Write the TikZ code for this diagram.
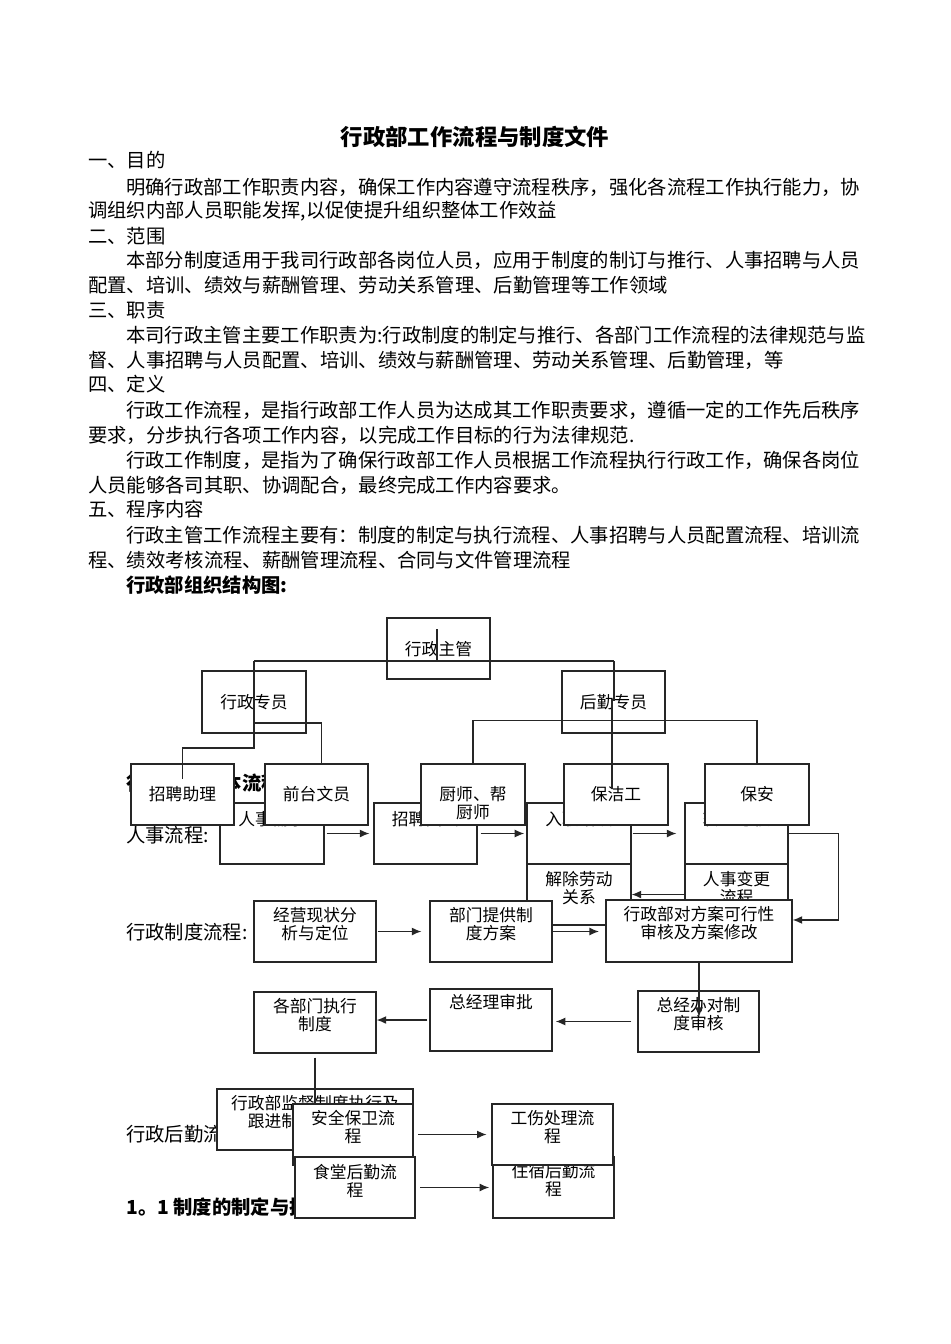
\documentclass[tikz,border=0pt]{standalone}
\usepackage{fontspec}
\setmainfont{Noto Sans CJK SC}
\usetikzlibrary{calc,arrows.meta}

\newcommand\bxfont{\fontsize{10.5}{10.8}\selectfont}
\newcommand\txfont{\fontsize{12.1}{15}\selectfont}

\begin{document}
\begin{tikzpicture}[x=0.6265pt, y=-0.6265pt]
\tikzset{box/.style = {draw=black!85, fill=white, line width=0.8pt, inner sep=0pt},
	lb/.style = {anchor=north, align=center, inner sep=0pt, font=\bxfont, yshift=-#1*0.6265pt},
	ln/.style = {anchor=west, inner sep=0pt, font=\txfont},
	conn/.style = {draw=black!85, line width=0.8pt},
	arr/.style = {conn, -{Latex[length=6pt,width=5pt]}}}
\newcommand\wbox[7]{\node[box, minimum width={(#4-#2)*0.6265pt}, minimum height={(#5-#3)*0.6265pt},
	label={[lb=#6]north:{#7}}] (#1) at ({(#2+#4)/2},{(#3+#5)/2}) {};}

\fill[white] (0,0) rectangle (950,1344);
\useasboundingbox (0,0) rectangle (950,1344);

\node[font=\fontsize{14}{16}\selectfont\bfseries, inner sep=0pt] (title) at (475,137) {行政部工作流程与制度文件};
\foreach \n/\x/\y/\t in {t1/88/160/{一、目的},
	t2/126/187/{明确行政部工作职责内容，确保工作内容遵守流程秩序，强化各流程工作执行能力，协},
	t3/88/211/{调组织内部人员职能发挥,以促使提升组织整体工作效益},
	t4/88/236/{二、范围},
	t5/126/260/{本部分制度适用于我司行政部各岗位人员，应用于制度的制订与推行、人事招聘与人员},
	t6/88/285/{配置、培训、绩效与薪酬管理、劳动关系管理、后勤管理等工作领域},
	t7/88/310/{三、职责},
	t8/126/335/{本司行政主管主要工作职责为:行政制度的制定与推行、各部门工作流程的法律规范与监},
	t9/88/360/{督、人事招聘与人员配置、培训、绩效与薪酬管理、劳动关系管理、后勤管理，等},
	t10/88/384/{四、定义},
	t11/126/410/{行政工作流程，是指行政部工作人员为达成其工作职责要求，遵循一定的工作先后秩序},
	t12/88/435/{要求，分步执行各项工作内容，以完成工作目标的行为法律规范.},
	t13/126/460/{行政工作制度，是指为了确保行政部工作人员根据工作流程执行行政工作，确保各岗位},
	t14/88/485/{人员能够各司其职、协调配合，最终完成工作内容要求。},
	t15/88/509/{五、程序内容},
	t16/126/535/{行政主管工作流程主要有：制度的制定与执行流程、人事招聘与人员配置流程、培训流},
	t17/88/560/{程、绩效考核流程、薪酬管理流程、合同与文件管理流程},
	t19/126/835/{人事流程:},
	t20/126/932/{行政制度流程:},
	t21/126/1134/{行政后勤流程:}}{
	\node[ln] (\n) at (\x,\y) {\t};
}
\node[ln, font=\txfont\bfseries] (t18) at (126,585) {行政部组织结构图:};
\node[ln, font=\txfont\bfseries] (h1) at (126,783) {行政部门基本流程:};
\node[ln, font=\txfont\bfseries] (h2) at (126,1207) {1。1 制度的制定与执行流程};

\wbox{rsxq}{220}{803}{324}{864}{9}{人事需求}
\wbox{zpms}{374}{803}{477}{864}{9}{招聘面试}
\wbox{rzpx}{527}{803}{631}{864}{9}{入职培训}
\wbox{zzkh}{685}{803}{788}{864}{9}{转正考核}
\wbox{jcld}{527}{864}{631}{925}{8}{解除劳动\\关系}
\wbox{rsbg}{685}{864}{788}{925}{8}{人事变更\\流程}
\draw[arr, shorten <=1.3pt, shorten >=2.5pt] (rsxq) -- (zpms);
\draw[arr, shorten <=1.9pt, shorten >=1.3pt] (zpms) -- (rzpx);
\draw[arr, shorten <=0.6pt, shorten >=5pt] (rzpx) -- (zzkh);
\draw[arr] (rsbg) -- (jcld);

\wbox{zg}{387}{618}{490}{679}{24}{行政主管}
\wbox{xzzy}{202}{671}{306}{733}{24}{行政专员}
\wbox{hqzy}{562}{671}{665}{733}{24}{后勤专员}
\wbox{zpzl}{131}{764}{234}{825}{23}{招聘助理}
\wbox{qtwy}{265}{764}{368}{825}{23}{前台文员}
\wbox{cs}{421}{764}{525}{825}{23}{厨师、帮\\厨师}
\wbox{bjg}{564}{764}{668}{825}{23}{保洁工}
\wbox{ba}{705}{764}{809}{825}{23}{保安}
\coordinate (zgin) at (437,629);
\coordinate (jl) at (254,661);
\coordinate (jm) at (254,723);
\coordinate (jr) at (614,661);
\draw[conn] (zgin) -- (zgin |- jl);
\draw[conn] (jl) -- (jr);
\draw[conn] (jl) -- ++(0,87) -| ([yshift=-10pt]zpzl.north);
\draw[conn] (jm) -| ([xshift=3pt]qtwy.north);
\draw[conn] (jr) -- ++(0,39) -| ([xshift=-2.5pt, yshift=-16.3pt]bjg.north);
\draw[conn] (cs.north) -- ++(0,-43) -| (ba.north);

\wbox{jyxz}{254}{901}{376}{962}{7}{经营现状分\\析与定位}
\wbox{bmtg}{430}{901}{552}{962}{7}{部门提供制\\度方案}
\wbox{xzsh}{606}{900}{792}{962}{7}{行政部对方案可行性\\审核及方案修改}
\draw[arr] (zzkh.east) -- ++(50,0) |- ([yshift=6.9pt]xzsh.east);
\draw[arr, shorten <=0.6pt, shorten >=5pt] (jyxz) -- (bmtg);
\draw[conn] ([yshift=4pt]bmtg.east) -- ([yshift=4pt]bmtg.east -| xzsh.west);
\draw[arr, shorten >=4pt] (bmtg.east) -- (bmtg.east -| xzsh.west);

\wbox{zjbsh}{638}{991}{759}{1052}{7}{总经办对制\\度审核}
\wbox{zjlsp}{430}{989}{552}{1051}{6}{总经理审批}
\wbox{gbmzx}{254}{992}{376}{1053}{7}{各部门执行\\制度}
\draw[arr] (xzsh.south) -- ($(xzsh.south |- zjbsh.center)+(0,-4.5)$);
\draw[arr, shorten <=3.8pt, shorten >=1.9pt] (zjbsh.west) -- (zjbsh.west -| zjlsp.east);
\draw[arr, shorten <=1.3pt] (zjlsp.west) -- (zjlsp.west -| gbmzx.east);

\wbox{jdzd}{217}{1089}{413}{1150}{7}{行政部监督制度执行及\\跟进制度实施情况}
\wbox{aqbw}{293}{1104}{413}{1165}{7}{安全保卫流\\程}
\draw[conn, shorten <=2.5pt] (gbmzx.south) -- (gbmzx.south |- aqbw.north);
\wbox{stqh}{295}{1157}{415}{1218}{8}{食堂后勤流\\程}
\wbox{zsqh}{493}{1157}{614}{1218}{7}{住宿后勤流\\程}
\wbox{gscl}{492}{1104}{613}{1165}{7}{工伤处理流\\程}
\draw[arr, shorten <=3pt, shorten >=3pt] (aqbw) -- (gscl);
\draw[arr, shorten <=3pt, shorten >=2pt] (stqh) -- (zsqh);
\end{tikzpicture}
\end{document}
